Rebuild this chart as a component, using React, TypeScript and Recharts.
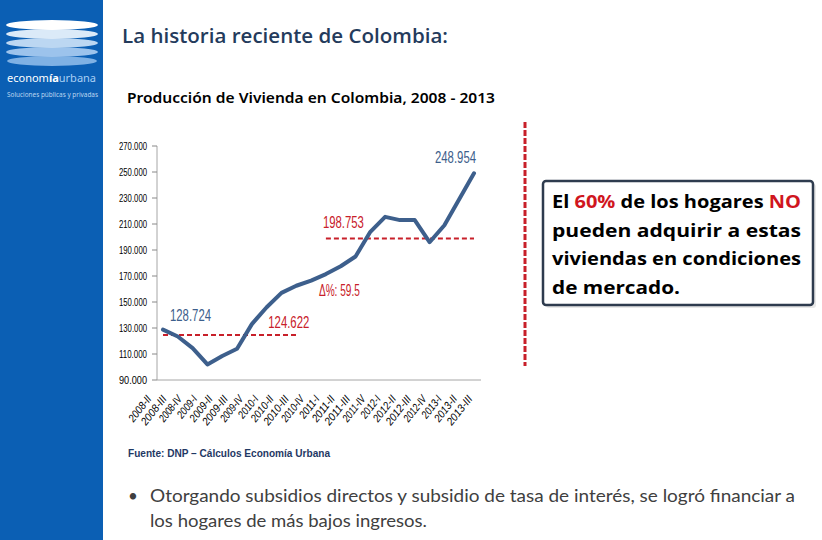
import React from 'react';
import { LineChart, Line, XAxis, YAxis, ReferenceLine, ReferenceDot } from 'recharts';

const periods = [
  '2008-II', '2008-III', '2008-IV', '2009-I', '2009-II', '2009-III', '2009-IV',
  '2010-I', '2010-II', '2010-III', '2010-IV', '2011-I', '2011-II', '2011-III', '2011-IV',
  '2012-I', '2012-II', '2012-III', '2012-IV', '2013-I', '2013-II', '2013-III',
];
const production = [
  128724, 123500, 114500, 102000, 108500, 114000, 133000,
  146000, 157000, 162500, 166500, 171500, 177500, 185000, 204000,
  215500, 213000, 213000, 196000, 209000, 229000, 248954,
];
const yTicks = [90000, 110000, 130000, 150000, 170000, 190000, 210000, 230000, 250000, 270000];
const avgBefore = 124622;
const avgAfter = 198753;
const beforeRange = ['2008-II', '2010-III'];
const afterRange = ['2011-I', '2013-III'];
const deltaText = 'Δ%: 59.5';

const data = periods.map((p, i) => ({ period: p, value: production[i] }));

const SANS = '"Liberation Sans", Arial, sans-serif';
const BLUE_LINE = '#3d5f8c';
const RED = '#c8202a';
const fmt = (v: number) => {
  const s = String(Math.round(v));
  return s.slice(0, s.length - 3) + '.' + s.slice(-3);
};

const XTick = (props: any) => {
  const { x, y, payload } = props;
  const ty = y + 18;
  const label = String(payload.value);
  return (
    <text x={x} y={ty} transform={`rotate(-52 ${x} ${ty})`} textAnchor="end"
      fontFamily={SANS} fontSize={11} fontStyle="italic" fill="#000"
      textLength={label.length * 4.3} lengthAdjust="spacingAndGlyphs">
      {label}
    </text>
  );
};

const YTick = (props: any) => {
  const { x, y, payload } = props;
  return (
    <text x={x} y={y} textAnchor="end" dominantBaseline="central" fontFamily={SANS}
      fontSize={10} fill="#000" textLength={28} lengthAdjust="spacingAndGlyphs">
      {fmt(payload.value)}
    </text>
  );
};

const makeLabel = (text: string, color: string, dx: number, dy: number, anchor: string) =>
  (props: any) => {
    const vb = props.viewBox || {};
    const cx = (vb.x ?? 0) + (vb.width ?? 0) / 2;
    const cy = (vb.y ?? 0) + (vb.height ?? 0) / 2;
    return (
      <text x={cx + dx} y={cy + dy} textAnchor={anchor} dominantBaseline="central"
        fontFamily={SANS} fontSize={16} fill={color} textLength={41} lengthAdjust="spacingAndGlyphs">
        {text}
      </text>
    );
  };

export default function App() {
  return (
    <div style={{ position: 'absolute', left: 0, top: 0, width: 822, height: 540, background: '#fff', overflow: 'hidden' }}>
      <svg width={822} height={540} style={{ position: 'absolute', left: 0, top: 0 }}>
        <rect x={0} y={0} width={103} height={540} fill="#0b5fb4" />
        <ellipse cx={52} cy={61} rx={45} ry={5} fill="#7fb1e4" />
        <ellipse cx={52} cy={52} rx={46} ry={5} fill="#9cc3ec" />
        <ellipse cx={52} cy={43} rx={46} ry={5} fill="#bcd7f2" />
        <ellipse cx={52} cy={34} rx={46} ry={5} fill="#dbeaf8" />
        <ellipse cx={52} cy={25} rx={46} ry={5} fill="#ffffff" />
        <text x={7} y={82} fontFamily="'Noto Sans', sans-serif" fontSize={11} fill="#ffffff">
          econom<tspan fontWeight="bold">ía</tspan><tspan fill="#a9d0f5">urbana</tspan>
        </text>
        <text x={7} y={97} fontFamily="'Noto Sans', sans-serif" fontSize={6.5} fill="#bcd6f0" textLength={91} lengthAdjust="spacingAndGlyphs">
          Soluciones públicas y privadas
        </text>

        <text x={122} y={43} fontFamily="'Open Sans', sans-serif" fontWeight={600} fontSize={19} fill="#243b5c" textLength={326} lengthAdjust="spacingAndGlyphs">
          La historia reciente de Colombia:
        </text>
        <text x={127} y={103} fontFamily="'Noto Sans', sans-serif" fontWeight={600} fontSize={15} fill="#000" textLength={368} lengthAdjust="spacingAndGlyphs">
          Producción de Vivienda en Colombia, 2008 - 2013
        </text>

        <text x={128} y={457} fontFamily={SANS} fontWeight="bold" fontSize={10} fill="#1f3864" textLength={202} lengthAdjust="spacingAndGlyphs">
          Fuente: DNP – Cálculos Economía  Urbana
        </text>

        <line x1={525} y1={122} x2={525} y2={366} stroke={RED} strokeWidth={3} strokeDasharray="6 2" />

        <rect x={546} y={184} width={270} height={124} rx={3} fill="#d9d9d9" opacity={0.6} />
        <rect x={543} y={181} width={270} height={124} rx={3} fill="#fff" stroke="#2e3b4e" strokeWidth={2.5} />
        <g fontFamily="'Open Sans', sans-serif" fontWeight="bold" fontSize={18} fill="#000">
          <text x={552} y={208} textLength={249} lengthAdjust="spacingAndGlyphs">
            El <tspan fill="#d0161e">60%</tspan> de los hogares <tspan fill="#d0161e">NO</tspan>
          </text>
          <text x={552} y={237} textLength={249} lengthAdjust="spacingAndGlyphs">pueden  adquirir  a  estas</text>
          <text x={552} y={265} textLength={249} lengthAdjust="spacingAndGlyphs">viviendas en condiciones</text>
          <text x={552} y={294} textLength={128} lengthAdjust="spacingAndGlyphs">de mercado.</text>
        </g>

        <g fontFamily="Lato, sans-serif" fontSize={17} fill="#404040">
          <text x={128} y={502}>•</text>
          <text x={150} y={502} textLength={645} lengthAdjust="spacingAndGlyphs">
            Otorgando subsidios directos y subsidio de tasa de interés, se logró financiar a
          </text>
          <text x={150} y={527} textLength={277} lengthAdjust="spacingAndGlyphs">
            los hogares de más bajos ingresos.
          </text>
        </g>
      </svg>

      <div style={{ position: 'absolute', left: 0, top: 0 }}>
        <LineChart width={822} height={540} data={data} margin={{ top: 146, right: 341, bottom: 100, left: 100 }}>
          <XAxis xAxisId="a" dataKey="period" height={1} tick={false} tickLine={false}
            axisLine={{ stroke: '#a6a6a6' }} padding={{ left: 6, right: 7 }} />
          <XAxis xAxisId="b" dataKey="period" height={59} axisLine={false} tickLine={false}
            tickSize={0} tickMargin={0} interval={0} padding={{ left: -5, right: 8 }} tick={<XTick />} />
          <YAxis domain={[90000, 270000]} ticks={yTicks} interval={0} width={57} tickSize={5} tickMargin={5}
            axisLine={{ stroke: '#a6a6a6' }} tickLine={{ stroke: '#888' }}
            tick={<YTick />} allowDataOverflow />
          <ReferenceLine xAxisId="a" segment={[{ x: beforeRange[0], y: avgBefore }, { x: beforeRange[1], y: avgBefore }]}
            stroke={RED} strokeWidth={2} strokeDasharray="5 3" />
          <ReferenceLine xAxisId="a" segment={[{ x: afterRange[0], y: avgAfter }, { x: afterRange[1], y: avgAfter }]}
            stroke={RED} strokeWidth={2} strokeDasharray="5 3" />
          <Line xAxisId="a" dataKey="value" stroke={BLUE_LINE} strokeWidth={4} dot={false}
            strokeLinejoin="round" strokeLinecap="round" isAnimationActive={false} />
          <ReferenceDot xAxisId="a" x={periods[0]} y={production[0]} r={0} fill="none" stroke="none"
            label={makeLabel(fmt(production[0]), '#3d5f8c', 7, -14, 'start')} />
          <ReferenceDot xAxisId="a" x={beforeRange[1]} y={avgBefore} r={0} fill="none" stroke="none"
            label={makeLabel(fmt(avgBefore), RED, -28, -12, 'start')} />
          <ReferenceDot xAxisId="a" x={afterRange[0]} y={avgAfter} r={0} fill="none" stroke="none"
            label={makeLabel(fmt(avgAfter), RED, -3, -16, 'start')} />
          <ReferenceDot xAxisId="a" x={afterRange[0]} y={avgAfter} r={0} fill="none" stroke="none"
            label={makeLabel(deltaText, RED, -7, 52, 'start')} />
          <ReferenceDot xAxisId="a" x={periods[21]} y={production[21]} r={0} fill="none" stroke="none"
            label={makeLabel(fmt(production[21]), '#3d5f8c', 2, -16, 'end')} />
        </LineChart>
      </div>
    </div>
  );
}
